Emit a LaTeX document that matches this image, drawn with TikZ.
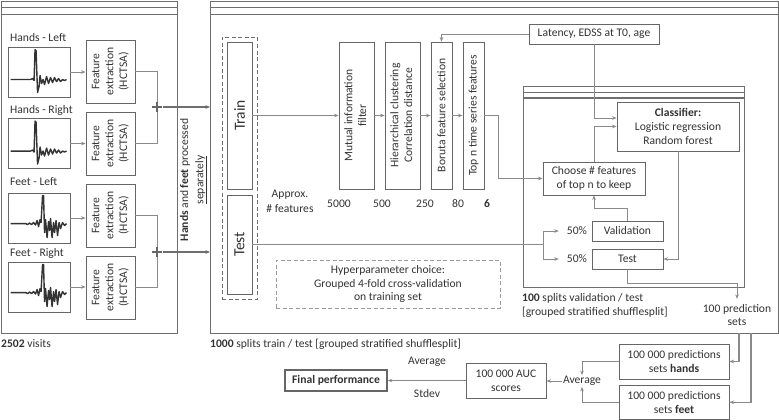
\documentclass[tikz,border=0pt]{standalone}
\usepackage{fontspec}
\setmainfont{Carlito}
\usetikzlibrary{arrows.meta,calc}
\definecolor{txt}{HTML}{333333}
\definecolor{frm}{HTML}{6E6E6E}
\definecolor{bxc}{HTML}{666666}
\definecolor{arc}{HTML}{8A8A8A}
\definecolor{sig}{HTML}{333333}
\definecolor{dsh}{HTML}{9A9A9A}
\newcommand\vtext[1]{\rotatebox{90}{\begin{tabular}{@{}c@{}}#1\end{tabular}}}
\newcommand\handwave{\draw[wave] (3,33) -- (23,33) -- (25,32) -- (26.5,34) -- (27.5,3) -- (28.5,4) -- (30,46) -- (31.5,40) -- (32.5,29) -- (34,37) -- (35.5,33) -- (37,38) -- (39,30) -- (41,37) -- (43,31) -- (45,36) -- (47,31) -- (49,35) -- (51,32) -- (53,35) -- (55,33) -- (57,34) -- (59,33);}
\newcommand\footwave{\draw[wave] (3,31) -- (18,31) -- (20,32) -- (22,30.5) -- (24,32) -- (26,30) -- (28,32.5) -- (29.5,28) -- (31,34) -- (32.5,27) -- (33.5,30) -- (35,3) -- (36,3) -- (37,40) -- (38,27) -- (39.5,45) -- (41,29) -- (42,38) -- (43,26) -- (44.5,45) -- (46,30) -- (47,40) -- (48.5,28) -- (50,43) -- (51.5,30) -- (53,36) -- (55,30) -- (57,33) -- (59,31);}
\begin{document}
\begin{tikzpicture}[x=1pt,y=-1pt,
  every node/.style={text=txt, font=\fontsize{11.6}{13.8}\selectfont},
  panel/.style={draw=frm, line width=1.1pt, inner sep=0, anchor=north west},
  box/.style={draw=bxc, line width=0.9pt, inner sep=0, align=center},
  imgbox/.style={draw=bxc, line width=0.9pt, inner sep=0, minimum width=62pt, minimum height=50pt},
  lbl/.style={inner sep=1pt, align=center},
  arr/.style={draw=arc, line width=0.9pt, -{Stealth[length=4.5pt,width=3.6pt]}},
  ln/.style={draw=arc, line width=0.9pt},
  hdr/.style={draw=frm, line width=1.1pt},
  wave/.style={draw=sig, line width=1.4pt, line join=round},
  plusbar/.style={draw=bxc, line width=1.4pt},
  big/.style={font=\fontsize{15.5}{18}\selectfont},
]
\useasboundingbox (0,0) rectangle (779,420);

% ---------- left panel ----------
\node[panel, minimum width=176pt, minimum height=332pt] (lp) at (0.6,0.6) {};
\draw[hdr] ($(lp.north west)+(0,6.5)$) -- ($(lp.north east)+(0,6.5)$);
\draw[hdr] ($(lp.north west)+(0,13.5)$) -- ($(lp.north east)+(0,13.5)$);

\node[lbl, anchor=west] (lHL) at (9,38) {Hands - Left};
\node[imgbox] (iHL) at (39,72) {};
\node[box, minimum width=49pt, minimum height=63pt] (fHL) at (110.5,71.5) {\vtext{Feature\\extraction\\(HCTSA)}};

\node[lbl, anchor=west] (lHR) at (9,110) {Hands - Right};
\node[imgbox] (iHR) at (39,143.5) {};
\node[box, minimum width=49pt, minimum height=63pt] (fHR) at (110.5,143.5) {\vtext{Feature\\extraction\\(HCTSA)}};

\node[lbl, anchor=west] (lFL) at (9,182) {Feet - Left};
\node[imgbox] (iFL) at (39,218) {};
\node[box, minimum width=49pt, minimum height=63pt] (fFL) at (110.5,215.5) {\vtext{Feature\\extraction\\(HCTSA)}};

\node[lbl, anchor=west] (lFR) at (9,253) {Feet - Right};
\node[imgbox] (iFR) at (39,287) {};
\node[box, minimum width=49pt, minimum height=63pt] (fFR) at (110.5,287.5) {\vtext{Feature\\extraction\\(HCTSA)}};

\begin{scope}[shift={(iHL.north west)}]\handwave\end{scope}
\begin{scope}[shift={(iHR.north west)}]\handwave\end{scope}
\begin{scope}[shift={(iFL.north west)}]\footwave\end{scope}
\begin{scope}[shift={(iFR.north west)}]\footwave\end{scope}

\draw[arr] (iHL.east) -- (iHL.east -| fHL.west);
\draw[arr] (iHR.east) -- (iHR.east -| fHR.west);
\draw[arr] (iFL.east) -- (iFL.east -| fFL.west);
\draw[arr] (iFR.east) -- (iFR.east -| fFR.west);

\node[panel, minimum width=567.6pt, minimum height=332pt] (mid) at (210,0.6) {};
\draw[hdr] ($(mid.north west)+(0,6.5)$) -- ($(mid.north east)+(0,6.5)$);
\draw[hdr] ($(mid.north west)+(0,13.5)$) -- ($(mid.north east)+(0,13.5)$);

\coordinate (pH) at (157,107);
\coordinate (pF) at (157,252);
\draw[ln] (fHL.east) -| (pH);
\draw[ln] (fHR.east) -| (pH);
\draw[ln] (fFL.east) -| (pF);
\draw[ln] (fFR.east) -| (pF);
\foreach \p in {pH,pF}{
  \draw[plusbar] ($(\p)+(-5,0)$) -- ($(\p)+(5,0)$);
  \draw[plusbar] ($(\p)+(0,-5)$) -- ($(\p)+(0,5)$);
}
\draw[arr, draw=frm, line width=1.3pt] ($(pH)+(6,0)$) -- (pH -| mid.west);
\draw[arr, draw=frm, line width=1.3pt] ($(pF)+(6,0)$) -- (pF -| mid.west);

\node (sep) at (193,180) {\rotatebox{90}{\begin{tabular}{@{}c@{}}\textbf{Hands} and \textbf{feet} processed\\[1.5pt]\underline{separately}\end{tabular}}};

\node[lbl, anchor=west] (leftlab) at (0,344) {\textbf{2502} visits};

% ---------- middle panel ----------
\node[draw=frm, dash pattern=on 4pt off 2.5pt, line width=0.9pt, minimum width=35pt, minimum height=262pt, inner sep=0] (tt) at (239.5,168) {};
\node[box, big, minimum width=25pt, minimum height=147pt] (train) at (239.5,115.5) {\rotatebox{90}{Train}};
\node[box, big, minimum width=25pt, minimum height=99pt] (test) at (239.5,244.5) {\rotatebox{90}{Test}};

\node[box, minimum width=35pt, minimum height=147pt] (mi) at (356.5,115.5) {\vtext{Mutual information\\filter}};
\node[box, minimum width=35pt, minimum height=147pt] (hc) at (402.5,115.5) {\vtext{Hierarchical clustering\\Correlation distance}};
\node[box, minimum width=21pt, minimum height=147pt] (bor) at (441.5,115.5) {\rotatebox{90}{Boruta feature selection}};
\node[box, minimum width=21pt, minimum height=147pt] (topn) at (473.5,115.5) {\rotatebox{90}{Top n time series features}};

\draw[arr] (train.east) -- (train.east -| mi.west);
\draw[arr] (mi.east) -- (hc.west);
\draw[arr] (hc.east) -- (bor.west);
\draw[arr] (bor.east) -- (topn.west);

\node[lbl] (apx) at (290,195) {Approx.};
\node[lbl] (nf) at (290,209) {\# features};
\node[lbl] (n1) at (339,204) {5000};
\node[lbl] (n2) at (382,204) {500};
\node[lbl] (n3) at (425,204) {250};
\node[lbl] (n4) at (458,204) {80};
\node[lbl] (n5) at (487,204) {\textbf{6}};

\node[box, minimum width=130pt, minimum height=20pt] (lat) at (594,34) {Latency, EDSS at T0, age};
\draw[arr] (lat.west) -| (bor.north);

% inner panel
\node[panel, minimum width=221pt, minimum height=201pt] (inn) at (523,86) {};
\draw[hdr] ($(inn.north west)+(0,6.5)$) -- ($(inn.north east)+(0,6.5)$);
\draw[hdr] ($(inn.north west)+(0,12)$) -- ($(inn.north east)+(0,12)$);

\node[box, minimum width=122pt, minimum height=49pt] (clf) at (678,126.5) {\textbf{Classifier:}\\Logistic regression\\Random forest};
\node[box, minimum width=102pt, minimum height=33pt] (cho) at (594,178.5) {Choose \# features\\of top n to keep};
\draw[arr] (topn.east) -- ++(14,0) |- (cho.west);
\draw[arr] (lat.south) |- ([yshift=8.5pt]clf.west);
\draw[arr] (cho.north) |- (clf.west);

\node[box, minimum width=71pt, minimum height=20pt] (val) at (627.5,231) {Validation};
\node[box, minimum width=71pt, minimum height=20pt] (itest) at (627.5,259) {Test};
\node[lbl] (pa) at (577,231) {50\%};
\node[lbl] (pb) at (577,259) {50\%};
\coordinate (spl) at (543,244.5);
\draw[ln] (test.east) -- (spl);
\draw[arr] (spl) |- ([xshift=-7pt]pa.west);
\draw[arr] (spl) |- ([xshift=-7pt]pb.west);
\draw[arr] (val.north) -- ++(0,-12) -| (cho.south);
\draw[arr] (clf.south) |- (itest.east);

\node[lbl] (pred) at (737,315) {100 prediction\\sets};
\draw[arr] (itest.south) -- ++(0,14) -| ([yshift=4pt]pred.north);

\node[lbl, anchor=west, align=left] (inlab) at (521,305.5) {\textbf{100} splits validation / test\\{}[grouped stratified shufflesplit]};

\node[draw=dsh, dash pattern=on 4pt off 2.5pt, line width=0.9pt, minimum width=224pt, minimum height=48pt, inner sep=0, align=center] (hyp) at (388,284) {Hyperparameter choice:\\Grouped 4-fold cross-validation\\on training set};

\node[lbl, anchor=west] (midlab) at (209,344) {\textbf{1000} splits train / test [grouped stratified shufflesplit]};

% ---------- bottom ----------
\node[box, minimum width=110pt, minimum height=35pt] (hnd) at (674,361.5) {100 000 predictions\\sets \textbf{hands}};
\node[box, minimum width=110pt, minimum height=34pt] (ft) at (674,402.3) {100 000 predictions\\sets \textbf{feet}};
\coordinate (oh) at (739,332.6);
\coordinate (of) at (751,332.6);
\draw[arr, line width=1.4pt] (oh) |- (hnd.east);
\draw[arr, line width=1.4pt] (of) |- (ft.east);

\node[lbl] (avg) at (582,381) {Average};
\draw[arr] (hnd.west) -| (avg.north);
\draw[arr] (ft.west) -| (avg.south);

\node[box, minimum width=80pt, minimum height=35pt] (auc) at (506,380.5) {100 000 AUC\\scores};
\draw[arr] (avg.west) -- (avg.west -| auc.east);

\node[box, line width=1.6pt, minimum width=102pt, minimum height=21pt] (fin) at (336,380.5) {\textbf{Final performance}};
\draw[arr] (auc.west) -- (fin.east);
\node[lbl] (fa) at (427,362) {Average};
\node[lbl] (fs) at (427,394) {Stdev};
\end{tikzpicture}
\end{document}
